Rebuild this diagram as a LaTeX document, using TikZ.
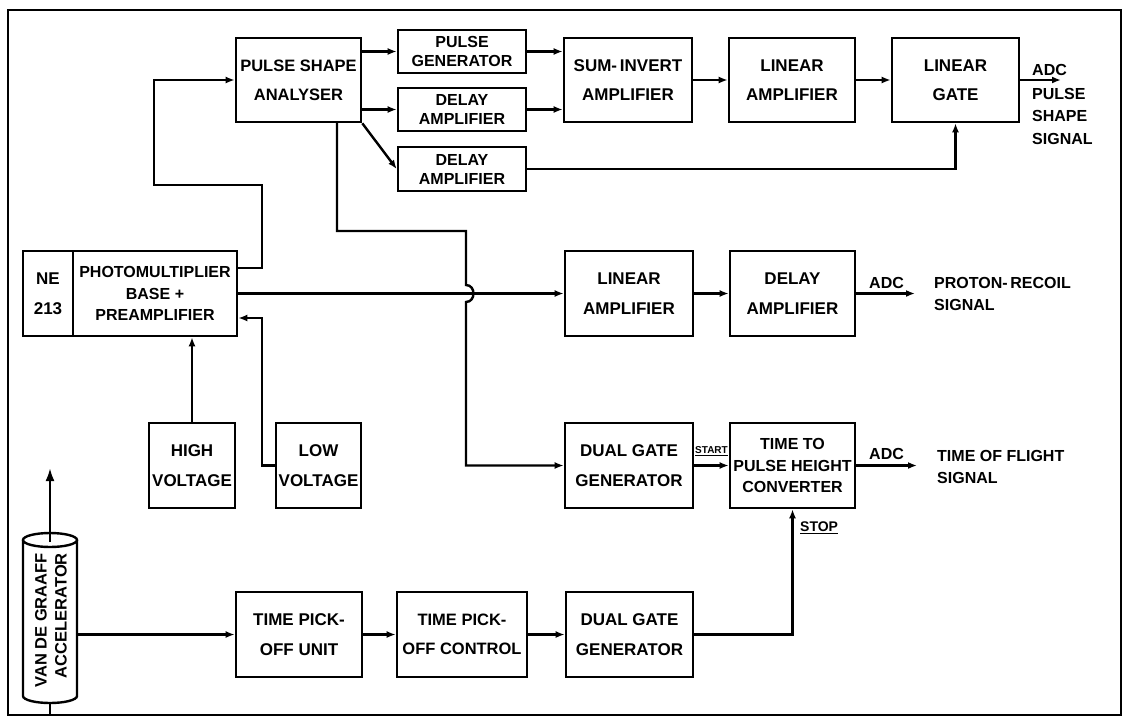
\documentclass[tikz,border=0pt]{standalone}
\usepackage{fontspec}
\setmainfont{Liberation Sans}
\usetikzlibrary{arrows.meta}
\begin{document}
\begin{tikzpicture}[x=1pt,y=-1pt,
  box/.style={draw, line width=2.6pt, inner sep=0pt, align=center, font=\bfseries\fontsize{17}{29.5}\selectfont},
  sbox/.style={box, font=\bfseries\fontsize{16}{19}\selectfont},
  mbox/.style={box, font=\bfseries\fontsize{16}{21.5}\selectfont},
  conn/.style={line width=2.4pt},
  arr/.style={conn, -{Latex[length=9pt,width=7pt]}},
  lbl/.style={font=\bfseries\fontsize{16}{22.5}\selectfont, inner sep=0pt, align=left},
  tiny/.style={font=\bfseries\fontsize{10}{12}\selectfont, inner sep=0pt}]
\useasboundingbox (0,0) rectangle (1127,718);
\draw[line width=2.6pt] (8,10) rectangle (1121,715);

% top row
\node[box, font=\bfseries\fontsize{16.5}{29}\selectfont, minimum width=125pt, minimum height=84pt] (psa) at (298.5,80) {PULSE SHAPE\\ANALYSER};
\node[sbox, minimum width=128pt, minimum height=43pt] (pg) at (462,51.5) {PULSE\\GENERATOR};
\node[sbox, minimum width=128pt, minimum height=43pt] (da1) at (462,109.5) {DELAY\\AMPLIFIER};
\node[sbox, minimum width=128pt, minimum height=44pt] (da2) at (462,169) {DELAY\\AMPLIFIER};
\node[box, minimum width=128pt, minimum height=84pt] (sia) at (628,80) {SUM-\,INVERT\\AMPLIFIER};
\node[box, minimum width=126pt, minimum height=84pt] (la1) at (792,80) {LINEAR\\AMPLIFIER};
\node[box, minimum width=127pt, minimum height=84pt] (lg) at (955.5,80) {LINEAR\\GATE};

% middle row
\node[box, minimum width=50pt, minimum height=85pt] (ne) at (48,293.5) {NE\\213};
\node[mbox, minimum width=164pt, minimum height=85pt] (pm) at (155,293.5) {PHOTOMULTIPLIER\\BASE +\\PREAMPLIFIER};
\node[box, minimum width=128pt, minimum height=85pt] (la2) at (629,293.5) {LINEAR\\AMPLIFIER};
\node[box, minimum width=125pt, minimum height=85pt] (da3) at (792.5,293.5) {DELAY\\AMPLIFIER};

% voltages and TOF
\node[box, minimum width=86pt, minimum height=85pt] (hv) at (192,465.5) {HIGH\\VOLTAGE};
\node[box, minimum width=85pt, minimum height=85pt] (lv) at (318.5,465.5) {LOW\\VOLTAGE};
\node[box, minimum width=128pt, minimum height=85pt] (dgg1) at (629,465.5) {DUAL GATE\\GENERATOR};
\node[mbox, minimum width=125pt, minimum height=85pt] (tphc) at (792.5,465.5) {TIME TO\\PULSE HEIGHT\\CONVERTER};

% bottom row
\node[box, minimum width=126pt, minimum height=85pt] (tpou) at (299,634.5) {TIME PICK-\\OFF UNIT};
\node[box, font=\bfseries\fontsize{16.5}{29.5}\selectfont, minimum width=130pt, minimum height=85pt] (tpoc) at (462,634.5) {TIME PICK-\\OFF CONTROL};
\node[box, minimum width=127pt, minimum height=85pt] (dgg2) at (629.5,634.5) {DUAL GATE\\GENERATOR};

% accelerator
\draw[line width=2.4pt] (23,540) -- (23,696) arc[start angle=180,end angle=0,x radius=27,y radius=7] -- (77,540);
\draw[line width=2.4pt] (50,540) ellipse [x radius=27, y radius=7];
\node[font=\bfseries\fontsize{16.5}{20}\selectfont, rotate=90, align=right, inner sep=0pt, anchor=east] (acc) at (51,553) {VAN DE GRAAFF\\ACCELERATOR};
\coordinate (acctop) at (50,542);
\coordinate (accup) at (50,468);
\coordinate (accbot) at (50,703);
\coordinate (accedge) at (50,715);
\coordinate (accR) at (77,634.5);
\draw[conn, -{Latex[length=13pt,width=9pt]}] (acctop) -- (accup);
\draw[conn] (accbot) -- (accedge);

% helper coordinates
\coordinate (tap) at (337,122);
\coordinate (adc1) at (1061,80);
\coordinate (adc2) at (915,293.5);
\coordinate (adc3) at (917,465.5);

% top connections
\draw[arr] (psa.east |- pg.west) -- (pg.west);
\draw[arr] (psa.east |- da1.west) -- (da1.west);
\draw[arr] (psa.south east) -- (da2.west);
\draw[arr] (pg.east) -- (pg.east -| sia.west);
\draw[arr] (da1.east) -- (da1.east -| sia.west);
\draw[arr] (sia.east) -- (la1.west);
\draw[arr] (la1.east) -- (lg.west);
\draw[arr] (lg.east) -- (adc1);
\draw[arr] (da2.east) -| (lg.south);

% PM to PSA
\draw[arr] (pm.east |- 0,268) -- (262,268) -- (262,185) -- (154,185) |- (psa.west);
% PSA to dual gate generator, with hop
\draw[arr] (tap) -- (337,231) -- (466,231) -- (466,285) .. controls (476,285) and (476,302) .. (466,302) |- (dgg1.west);
% PM to linear amplifier
\draw[arr] (pm.east) -- (la2.west);
\draw[arr] (la2.east) -- (da3.west);
\draw[arr] (da3.east) -- (adc2);

% voltages
\draw[arr] (hv.north) -- (hv.north |- pm.south);
\draw[arr] (lv.west) -- (262,465.5) |- (pm.east |- 0,318);

% TOF
\draw[arr] (dgg1.east) -- (tphc.west);
\draw[arr] (tphc.east) -- (adc3);
\draw[arr] (accR) -- (tpou.west);
\draw[arr] (tpou.east) -- (tpoc.west);
\draw[arr] (tpoc.east) -- (dgg2.west);
\draw[arr] (dgg2.east) -| (tphc.south);

% labels
\node[lbl, anchor=south west] (l1) at (1032,76) {ADC};
\node[lbl, anchor=north west] (l2) at (1032,88) {PULSE\\SHAPE\\SIGNAL};
\node[lbl, anchor=north west] (l3) at (869,277) {ADC};
\node[lbl, anchor=north west] (l4) at (934,277) {PROTON-\,RECOIL\\SIGNAL};
\node[lbl, anchor=north west] (l5) at (869,448) {ADC};
\node[lbl, anchor=north west] (l6) at (937,450) {TIME OF FLIGHT\\SIGNAL};
\node[tiny, anchor=south] (start) at (711.5,456) {\underline{START}};
\node[lbl, anchor=north west, font=\bfseries\fontsize{14}{16}\selectfont] (stop) at (800,522) {\underline{STOP}};
\end{tikzpicture}
\end{document}
